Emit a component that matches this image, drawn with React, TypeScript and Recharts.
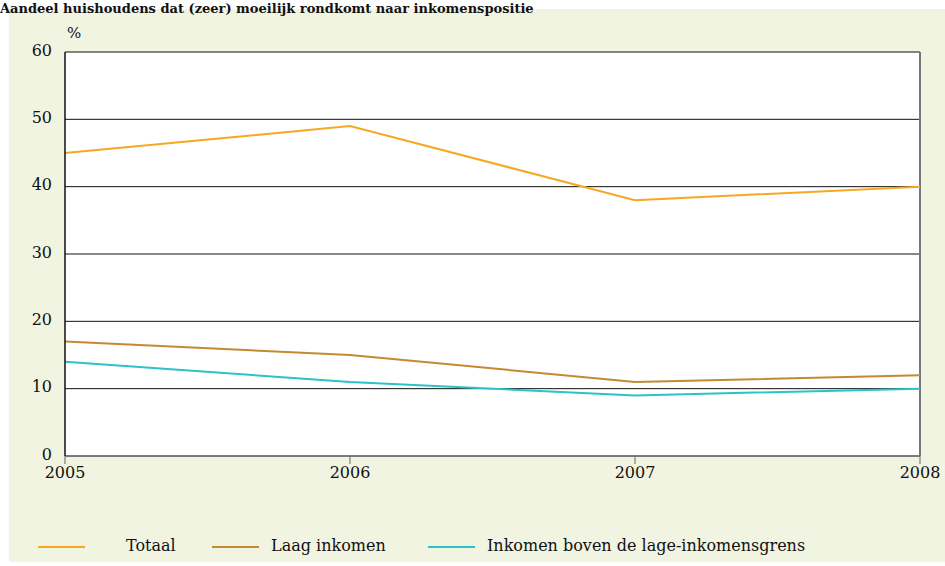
import { LineChart, Line, XAxis, YAxis, CartesianGrid, ReferenceLine } from "recharts";

const years = ["2005", "2006", "2007", "2008"];
const totaal = [45, 49, 38, 40];
const laagInkomen = [17, 15, 11, 12];
const bovenGrens = [14, 11, 9, 10];
const yTicks = [0, 10, 20, 30, 40, 50, 60];

const series = [
  { key: "totaal", name: "Totaal", color: "#f7a823" },
  { key: "laag", name: "Laag inkomen", color: "#c48a30" },
  { key: "boven", name: "Inkomen boven de lage-inkomensgrens", color: "#2cc2c9" },
];

const data = years.map((year, i) => ({
  year,
  totaal: totaal[i],
  laag: laagInkomen[i],
  boven: bovenGrens[i],
}));

const font = "DejaVu Serif, Liberation Serif, serif";

// legend positions (line start, text start)
const legendX = [
  { line: 38, text: 126 },
  { line: 212, text: 271 },
  { line: 428, text: 487 },
];

const App = () => {
  return (
    <div style={{ position: "fixed", left: 0, top: 0, width: 945, height: 566, background: "#fff", fontFamily: font }}>
      <div style={{ position: "absolute", left: 9, top: 9, width: 936, height: 553, background: "#f0f4e1" }} />
      <div style={{ position: "absolute", left: 0, top: 0 }}>
        <LineChart width={945} height={566} data={data} margin={{ top: 52, right: 25, bottom: 80, left: 10 }}>
          <CartesianGrid fill="#ffffff" vertical={false} stroke="#111" />
          <XAxis
            dataKey="year"
            height={30}
            tickSize={8}
            tickMargin={3}
            tick={{ fill: "#111", fontSize: 16, fontFamily: font }}
            axisLine={{ stroke: "#777", strokeWidth: 1.5 }}
            tickLine={{ stroke: "#666" }}
          />
          <YAxis
            width={55}
            domain={[0, 60]}
            ticks={yTicks}
            interval={0}
            tickSize={0}
            tickMargin={13}
            tickLine={false}
            axisLine={{ stroke: "#111", strokeWidth: 1.5 }}
            tick={{ fill: "#111", fontSize: 16, fontFamily: font, dy: -2 }}
          />
          <ReferenceLine x="2008" stroke="#777" strokeWidth={2} />
          {series.map((s) => (
            <Line
              key={s.key}
              type="linear"
              dataKey={s.key}
              name={s.name}
              stroke={s.color}
              strokeWidth={2}
              dot={false}
              activeDot={false}
              isAnimationActive={false}
            />
          ))}
        </LineChart>
      </div>
      <svg width={945} height={566} style={{ position: "absolute", left: 0, top: 0, pointerEvents: "none" }}>
        <text x={0} y={13} fontFamily={font} fontWeight="bold" fontSize={13} fill="#111">
          Aandeel huishoudens dat (zeer) moeilijk rondkomt naar inkomenspositie
        </text>
        <text x={67} y={38} fontFamily={font} fontSize={15} fill="#111">
          %
        </text>
        {series.map((s, i) => (
          <g key={s.key}>
            <line x1={legendX[i].line} x2={legendX[i].line + 47} y1={547} y2={547} stroke={s.color} strokeWidth={2} />
            <text x={legendX[i].text} y={551} fontFamily={font} fontSize={16} fill="#111">
              {s.name}
            </text>
          </g>
        ))}
      </svg>
    </div>
  );
};

export default App;
